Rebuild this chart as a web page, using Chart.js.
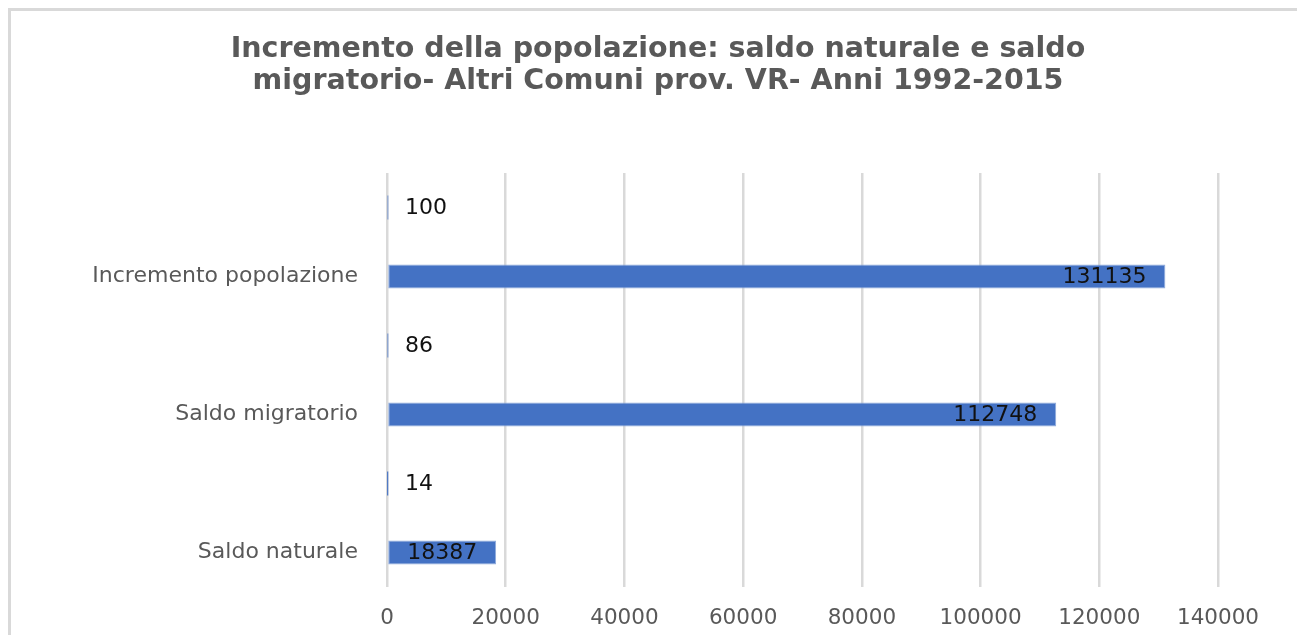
<!DOCTYPE html>
<html>
<head>
<meta charset="utf-8">
<script src="https://cdn.jsdelivr.net/npm/chart.js@4.4.1/dist/chart.umd.min.js"></script>
<style>
  html, body { margin: 0; padding: 0; background: #fff; }
  #wrap { position: relative; width: 1297px; height: 635px; overflow: hidden; }
</style>
</head>
<body>
<div id="wrap"><canvas id="chart" width="1297" height="635"></canvas></div>
<script>
const categories = ["Incremento popolazione", "Saldo migratorio", "Saldo naturale"]
const percentValues = [100, 86, 14]
const absoluteValues = [131135, 112748, 18387]
const xTicks = [0, 20000, 40000, 60000, 80000, 100000, 120000, 140000]
const titleLines = [
  "Incremento della popolazione: saldo naturale e saldo",
  "migratorio- Altri Comuni prov. VR- Anni 1992-2015",
]

const labelFont = "'DejaVu Sans', Verdana, sans-serif"

// outer frame of the chart object (only top and left edge are visible)
const framePlugin = {
  id: "frame",
  beforeDraw(chart) {
    const ctx = chart.ctx
    ctx.save()
    ctx.fillStyle = "#fff"
    ctx.fillRect(0, 0, chart.width, chart.height)
    ctx.strokeStyle = "#d9d9d9"
    ctx.lineWidth = 3
    ctx.beginPath()
    ctx.moveTo(9.5, chart.height + 20)
    ctx.lineTo(9.5, 9.5)
    ctx.lineTo(chart.width + 20, 9.5)
    ctx.stroke()
    ctx.restore()
  },
}

// chart title, centred on the whole chart object rather than the plot
const titlePlugin = {
  id: "titleText",
  afterDraw(chart) {
    const ctx = chart.ctx
    ctx.save()
    ctx.font = "bold 28.5px 'DejaVu Sans', Verdana, sans-serif"
    ctx.fillStyle = "#595959"
    ctx.textAlign = "center"
    ctx.textBaseline = "middle"
    titleLines.forEach((line, i) => ctx.fillText(line, 658, 50 + i * 32))
    ctx.restore()
  },
}

// data labels: percentages at left, absolute values inside bar end
const valueLabels = {
  id: "valueLabels",
  afterDatasetsDraw(chart) {
    const ctx = chart.ctx
    ctx.save()
    ctx.font = "22px " + labelFont
    ctx.fillStyle = "#111"
    ctx.textBaseline = "middle"
    chart.getDatasetMeta(0).data.forEach((bar, i) => {
      ctx.textAlign = "left"
      ctx.fillText(String(percentValues[i]), chart.chartArea.left + 18, bar.y + 1)
    })
    chart.getDatasetMeta(1).data.forEach((bar, i) => {
      ctx.textAlign = "right"
      ctx.fillText(String(absoluteValues[i]), bar.x - 19, bar.y + 1)
    })
    ctx.restore()
  },
}

new Chart(document.getElementById("chart"), {
  type: "bar",
  data: {
    labels: categories,
    datasets: [
      {
        label: "%",
        data: percentValues,
        backgroundColor: "#4472c4",
        categoryPercentage: 1,
        barPercentage: 0.35,
      },
      {
        label: "Valori",
        data: absoluteValues,
        backgroundColor: "#4472c4",
        borderColor: "#8eaadb",
        borderWidth: 1,
        borderSkipped: false,
        categoryPercentage: 1,
        barPercentage: 0.35,
      },
    ],
  },
  options: {
    indexAxis: "y",
    responsive: false,
    animation: false,
    layout: { padding: { left: 0, right: 79, top: 173, bottom: 0 } },
    plugins: {
      legend: { display: false },
      tooltip: { enabled: false },
      title: { display: false },
    },
    scales: {
      x: {
        min: 0,
        max: 140000,
        afterBuildTicks(scale) {
          scale.ticks = xTicks.map((v) => ({ value: v }))
        },
        afterFit(scale) {
          scale.height = 48
        },
        grid: { color: "#d9d9d9", lineWidth: 2.5, drawTicks: false },
        border: { display: false },
        ticks: {
          color: "#595959",
          font: { family: labelFont, size: 21.5 },
          padding: 19,
          maxRotation: 0,
          callback: (v) => String(v),
        },
      },
      y: {
        afterFit(scale) {
          scale.width = 387
        },
        grid: { display: false },
        border: { display: false },
        ticks: { color: "#595959", font: { family: labelFont, size: 22 }, padding: 21, labelOffset: 34 },
      },
    },
  },
  plugins: [framePlugin, valueLabels, titlePlugin],
})
</script>
</body>
</html>
